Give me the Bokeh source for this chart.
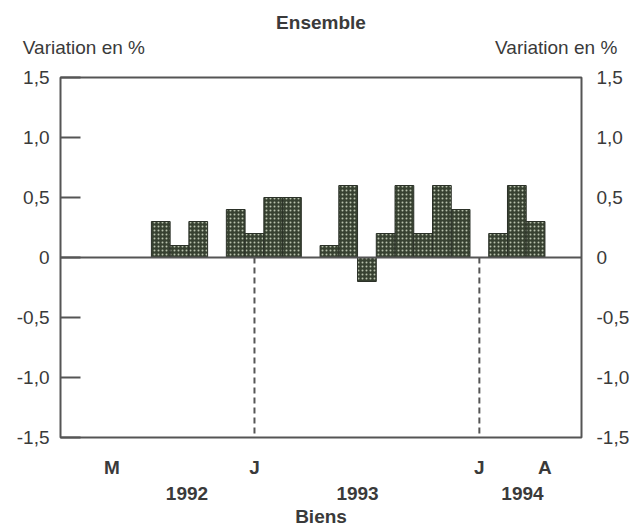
from bokeh.plotting import figure
from bokeh.models import (Range1d, LinearAxis, FixedTicker, Span, Title,
                          ColumnDataSource)
from bokeh.embed import file_html
from bokeh.resources import INLINE

# ---- data -------------------------------------------------------------
months = ["1992-05", "1992-06", "1992-07", "1992-08", "1992-09", "1992-10",
          "1992-11", "1992-12", "1993-01", "1993-02", "1993-03", "1993-04",
          "1993-05", "1993-06", "1993-07", "1993-08", "1993-09", "1993-10",
          "1993-11", "1993-12", "1994-01", "1994-02", "1994-03", "1994-04"]
variation = [0.0, 0.0, 0.0, 0.3, 0.1, 0.3,
             0.0, 0.4, 0.2, 0.5, 0.5, 0.0,
             0.1, 0.6, -0.2, 0.2, 0.6, 0.2,
             0.6, 0.4, 0.0, 0.2, 0.6, 0.3]
y_ticks = [-1.5, -1.0, -0.5, 0.0, 0.5, 1.0, 1.5]
y_tick_labels = ["-1,5", "-1,0", "-0,5", "0", "0,5", "1,0", "1,5"]
month_tick_pos = [0.4, 8, 20, 23.5]
month_tick_labels = ["M", "J", "J", "A"]
year_pos = [4.4, 13.5, 22.3]
year_labels = ["1992", "1993", "1994"]
unit_pos = [-1.1, 24.1]
unit_labels = ["Variation en %", "Variation en %"]
jan_pos = [8, 20]

FONT = "Liberation Sans"
TXT = "#3a3a3a"
LINE = "#555555"
FS = "19px"

idx = list(range(len(months)))

p = figure(width=634, height=528, output_backend="svg", toolbar_location=None,
           x_range=Range1d(-2.35, 25.45), y_range=Range1d(-1.5, 1.5),
           x_axis_location=None, y_axis_location=None,
           min_border_left=60, min_border_right=53,
           min_border_top=77, min_border_bottom=91)
p.background_fill_color = "white"
p.border_fill_color = "white"
p.outline_line_color = LINE
p.outline_line_width = 2
p.grid.visible = False

src = ColumnDataSource(dict(x=idx, top=variation, month=months))
p.vbar(x="x", top="top", bottom=0, width=1.0, source=src,
       fill_color="#374131", line_color="#2b3128", line_width=1,
       hatch_pattern="dot", hatch_color="#b8c2ad", hatch_scale=4, hatch_weight=1)

p.add_layout(Span(location=0, dimension="width", line_color=LINE, line_width=2))
p.segment(x0=jan_pos, y0=[0] * len(jan_pos), x1=jan_pos, y1=[-1.5] * len(jan_pos),
          line_color=LINE, line_width=2, line_dash="6 4")


def text_axis(ticks, labels, standoff, bold=False):
    ax = LinearAxis(ticker=FixedTicker(ticks=ticks),
                    major_label_overrides={float(t): l for t, l in zip(ticks, labels)})
    ax.axis_line_color = None
    ax.major_tick_line_color = None
    ax.minor_tick_line_color = None
    ax.major_tick_in = 0
    ax.major_tick_out = 0
    ax.major_label_standoff = standoff
    ax.major_label_text_font = FONT
    ax.major_label_text_font_size = FS
    ax.major_label_text_color = TXT
    ax.major_label_text_font_style = "bold" if bold else "normal"
    return ax


# y axes
left = text_axis(y_ticks, y_tick_labels, 11)
left.major_tick_in = 20
left.major_tick_line_color = LINE
left.major_tick_line_width = 2
p.add_layout(left, "left")
p.add_layout(text_axis(y_ticks, y_tick_labels, 15), "right")

# unit labels above the frame
p.add_layout(text_axis(unit_pos, unit_labels, 20), "above")

# month and year labels below the frame
p.add_layout(text_axis(month_tick_pos, month_tick_labels, 19, bold=True), "below")
p.add_layout(text_axis(year_pos, year_labels, 6, bold=True), "below")

# titles
p.add_layout(Title(text="Ensemble", align="center", text_font=FONT,
                   text_font_size=FS, text_font_style="bold", text_color=TXT,
                   standoff=2), "above")
p.add_layout(Title(text="Biens", align="center", text_font=FONT,
                   text_font_size=FS, text_font_style="bold", text_color=TXT,
                   standoff=2), "below")

open("out.html", "w").write(file_html(p, INLINE))
